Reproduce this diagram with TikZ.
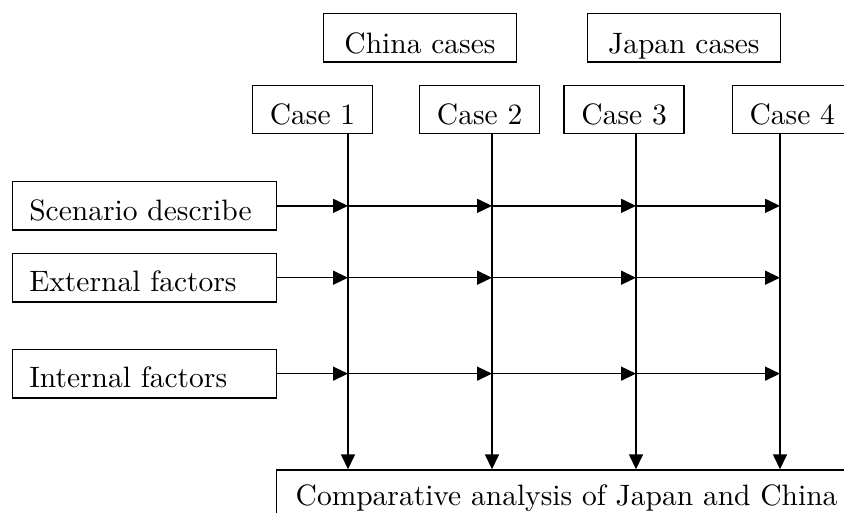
\documentclass[tikz,border=0pt]{standalone}
\usepackage{fontspec}
\setmainfont{lmroman10-regular.otf}
\usetikzlibrary{arrows.meta}
\begin{document}
\begin{tikzpicture}[x=1pt, y=-1pt,
  font=\fontsize{29.5}{36}\selectfont,
  box/.style={draw=black, line width=1.4pt, inner xsep=0pt, inner ysep=0pt, anchor=center},
  casebox/.style={box, minimum width=120pt, text height=39pt, text depth=9pt},
  groupbox/.style={box, minimum width=193pt, text height=40pt, text depth=8.7pt},
  factorbox/.style={box, inner xsep=17pt, text width=230pt, align=left, text height=38.3pt, text depth=10pt},
  flow/.style={line width=1.5pt, -{Triangle[length=15pt,width=14pt]}}]
  \useasboundingbox (0,0) rectangle (844,512);
  \clip (0,0) rectangle (844,512);
  \fill[white] (0,0) rectangle (844,512);

  % group headings
  \node[groupbox] (china) at (420,37.65) {China cases};
  \node[groupbox] (japan) at (683.85,37.65) {Japan cases};

  % case boxes
  \node[casebox] (case1) at (312.5,109.3) {Case 1};
  \node[casebox] (case2) at (479.65,109.3) {Case 2};
  \node[casebox] (case3) at (624.15,109.3) {Case 3};
  \node[casebox] (case4) at (792.3,109.3) {Case 4};

  % factor boxes on the left
  \node[factorbox] (scen) at (144.3,205.85) {Scenario describe};
  \node[factorbox] (ext)  at (144.3,277.7) {External factors};
  \node[factorbox] (int)  at (144.3,373.65) {Internal factors};

  % result box, running past the right and bottom edges
  \node[box, anchor=north west, inner xsep=19pt, text width=562pt, align=left,
        text height=35.7pt, text depth=24pt] (comp) at (276,469.3)
        {Comparative analysis of Japan and China};

  % columns of the four cases
  \coordinate (c1) at (348,0);
  \coordinate (c2) at (492,0);
  \coordinate (c3) at (636,0);
  \coordinate (c4) at (780,0);

  % vertical flows from each case down to the result
  \foreach \k in {1,2,3,4} {
    \draw[flow] (case\k.south -| c\k) -- (comp.north -| c\k);
  }

  % horizontal flows of each factor across the cases
  \foreach \f in {scen,ext,int} {
    \draw[flow] (\f.east) -- (\f.east -| c1);
    \draw[flow] (\f.east -| c1) -- (\f.east -| c2);
    \draw[flow] (\f.east -| c2) -- (\f.east -| c3);
    \draw[flow] (\f.east -| c3) -- (\f.east -| c4);
  }
\end{tikzpicture}
\end{document}
